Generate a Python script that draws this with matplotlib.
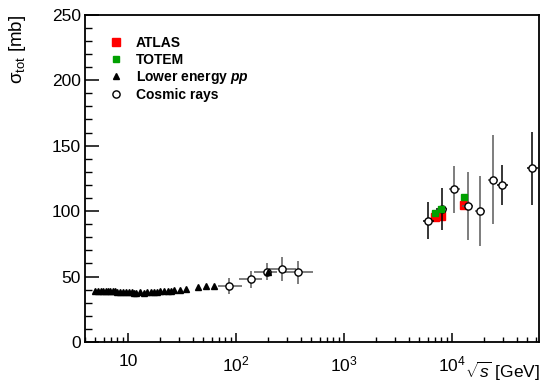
import numpy as np
import matplotlib
matplotlib.use("Agg")
import matplotlib.pyplot as plt
from matplotlib.lines import Line2D
from matplotlib.ticker import FixedLocator, FixedFormatter, LogLocator, MultipleLocator, NullFormatter

plt.rcParams['font.family'] = ['Liberation Sans', 'DejaVu Sans']
plt.rcParams['mathtext.fontset'] = 'custom'
plt.rcParams['mathtext.rm'] = 'Liberation Sans'
plt.rcParams['mathtext.it'] = 'Liberation Sans:italic'
plt.rcParams['mathtext.bf'] = 'Liberation Sans:bold'
plt.rcParams['mathtext.bfit'] = 'Liberation Sans:italic:bold'

# lower energy pp data
low_sqrts = [5.0, 5.3, 5.6, 5.9, 6.2, 6.5, 6.8, 7.2, 7.6, 8.0, 8.5, 9.0, 9.6, 10.2, 10.8, 11.5, 12.0,
             13.0, 14.0, 15.0, 16.3, 17.5, 18.7, 19.7, 21.7, 23.3, 25.0, 27.0, 30.6, 34.7,
             44.7, 52.8, 62.5, 200.0]
low_sigma = [38.9, 39.0, 39.1, 39.0, 38.8, 38.9, 38.7, 38.7, 38.6, 38.5, 38.4, 38.4, 38.3, 38.2, 38.0, 37.8, 37.5,
             38.0, 37.8, 37.9, 38.1, 38.3, 38.5, 38.7, 38.8, 39.0, 39.3, 39.6, 40.0, 40.3,
             41.7, 42.4, 43.0, 53.5]

# cosmic rays
cr_sqrts = [86, 137, 194, 269, 380, 6080, 8070, 10600, 14100, 18400, 24300, 29600, 56200]
cr_x_lo = [68, 107, 149, 205, 270, 5420, 7200, 9450, 12600, 16400, 21700, 26400, 50200]
cr_x_hi = [115, 174, 243, 363, 515, 6810, 9040, 11900, 15800, 20600, 27200, 33200, 62900]
cr_sigma = [42.8, 47.9, 53.7, 55.8, 53.2, 92.7, 101.4, 116.7, 103.9, 100.0, 123.8, 119.9, 132.7]
cr_err = [6.0, 6.5, 6.5, 9.5, 9.0, 14.0, 16.0, 18.0, 26.0, 27.0, 34.0, 15.0, 28.0]
cr_gray = [True, True, True, True, True, False, False, True, True, True, True, False, False]

# ATLAS and TOTEM
atlas_sqrts = [7000, 8000, 13000]
atlas_sigma = [95.35, 96.07, 104.7]
totem_sqrts = [7000, 8000, 13000]
totem_sigma = [98.6, 101.7, 110.6]

fig = plt.figure(figsize=(5.43, 3.84), dpi=100)
ax = fig.add_axes([0.1565, 0.1094, 0.8367, 0.8523])
ax.set_xscale('log')

ax.plot(atlas_sqrts, atlas_sigma, 's', color='#ff0000', ms=5.4, mec='#ff0000', zorder=3)

for i in range(len(cr_sqrts)):
    c = '#5a5a5a' if cr_gray[i] else 'black'
    xe = [[cr_sqrts[i] - cr_x_lo[i]], [cr_x_hi[i] - cr_sqrts[i]]]
    ax.errorbar([cr_sqrts[i]], [cr_sigma[i]], yerr=[cr_err[i]], xerr=xe, fmt='o', ms=5.2,
                mfc='white', mec='black', mew=1.0, ecolor=c, elinewidth=1.1, capsize=0, zorder=4)

ax.plot(totem_sqrts, totem_sigma, 's', color='#00a000', ms=4.2, mec='#00a000', zorder=5)
ax.plot(low_sqrts, low_sigma, '^', color='black', ms=4.2, zorder=5)

ax.set_xlim(4.0, 65000)
ax.set_ylim(0, 250)

ax.xaxis.set_major_locator(FixedLocator([10, 100, 1000, 10000]))
ax.xaxis.set_major_formatter(FixedFormatter(['10', '$10^{2}$', '$10^{3}$', '$10^{4}$']))
ax.xaxis.set_minor_locator(LogLocator(base=10, subs=np.arange(2, 10), numticks=20))
ax.xaxis.set_minor_formatter(NullFormatter())
ax.yaxis.set_major_locator(MultipleLocator(50))
ax.yaxis.set_minor_locator(MultipleLocator(10))

ax.tick_params(axis='both', which='both', direction='in', top=False, right=False, labelsize=12.5)
ax.tick_params(axis='x', which='major', length=6.8, width=1.1, pad=9)
ax.tick_params(axis='x', which='minor', length=3.5, width=1.0)
ax.tick_params(axis='y', which='major', length=10, width=1.1, pad=3)
ax.tick_params(axis='y', which='minor', length=5, width=1.0)
for s in ax.spines.values():
    s.set_linewidth(1.3)

ax.set_ylabel('σ$_{\\mathrm{tot}}$ [mb]', fontsize=13.5, loc='top')
ax.yaxis.set_label_coords(-0.125, 1.0)
ax.set_xlabel('$\\sqrt{s}$ [GeV]', fontsize=12.5, loc='right')
ax.xaxis.set_label_coords(1.002, -0.056)

handles = [
    Line2D([], [], ls='', marker='s', color='#ff0000', ms=5.4),
    Line2D([], [], ls='', marker='s', color='#00a000', ms=4.2),
    Line2D([], [], ls='', marker='^', color='black', ms=4.2),
    Line2D([], [], ls='', marker='o', mfc='white', mec='black', ms=5.2),
]
labels = ['ATLAS', 'TOTEM', 'Lower energy $\\mathbfit{pp}$', 'Cosmic rays']
ax.legend(handles, labels, loc='upper left', bbox_to_anchor=(0.054, 0.934),
          frameon=False, borderpad=0, borderaxespad=0, handlelength=1.0, handletextpad=0.9,
          labelspacing=0.16, prop={'weight': 'bold', 'size': 10})

fig.savefig('out.png', dpi=100)
